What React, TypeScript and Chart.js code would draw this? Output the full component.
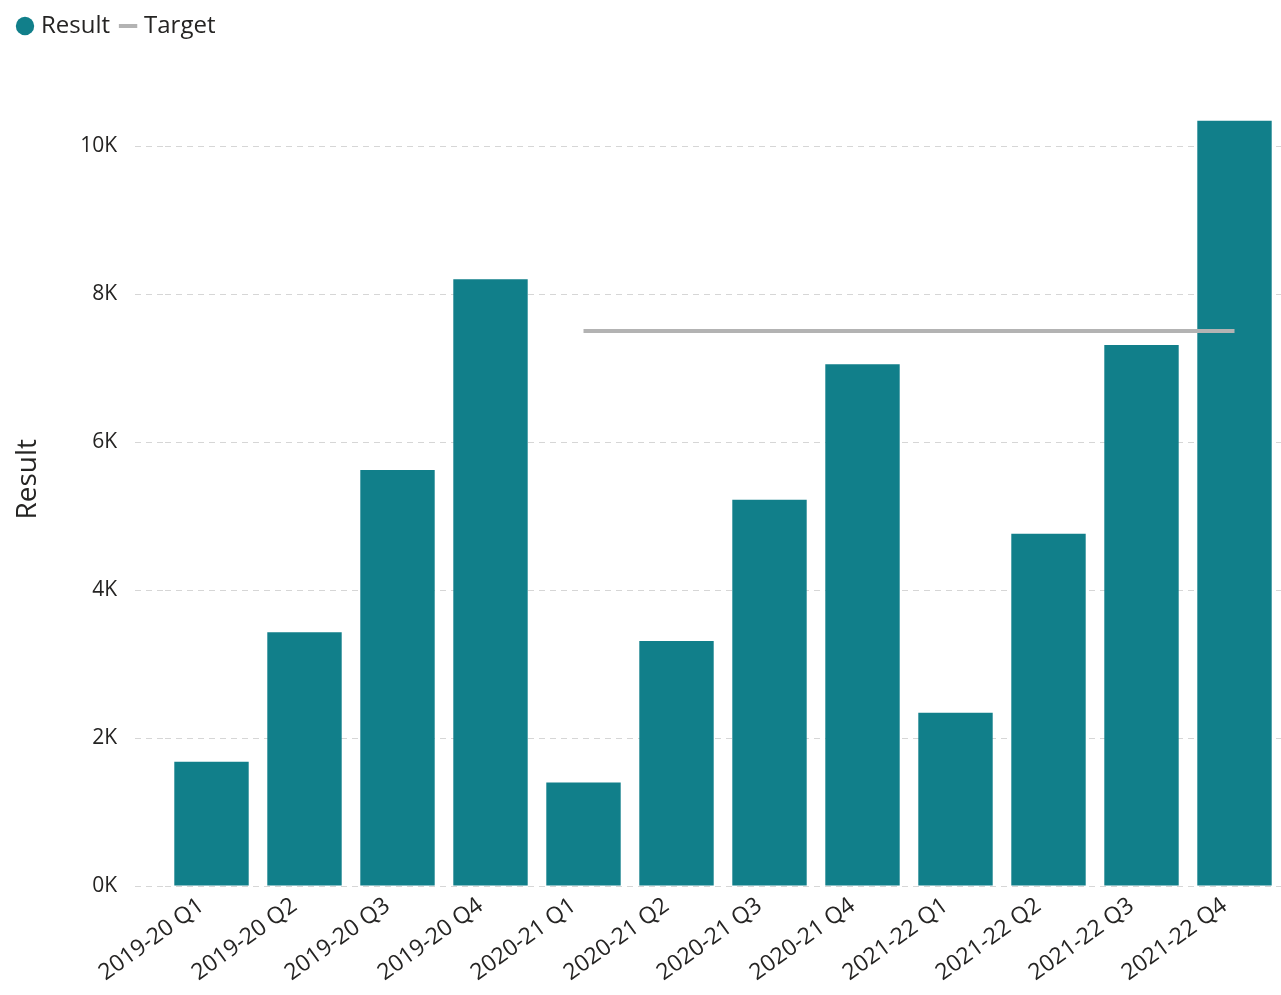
import React, { useEffect, useRef } from "react";
import { Chart, registerables } from "chart.js";

Chart.register(...registerables);

const categories = [
  "2019-20 Q1", "2019-20 Q2", "2019-20 Q3", "2019-20 Q4",
  "2020-21 Q1", "2020-21 Q2", "2020-21 Q3", "2020-21 Q4",
  "2021-22 Q1", "2021-22 Q2", "2021-22 Q3", "2021-22 Q4",
];
const resultValues = [1680, 3430, 5620, 8200, 1400, 3310, 5220, 7050, 2340, 4760, 7310, 10340];
const targetValues = [null, null, null, null, 7500, 7500, 7500, 7500, 7500, 7500, 7500, 7500];
const yTickValues = [0, 2000, 4000, 6000, 8000, 10000];

const FONT = '"Open Sans", "Noto Sans", sans-serif';
const TEXT = "#252423";
const BAR = "#117F8A";
const TARGET = "#B3B3B3";
const GRID = "#D6D6D6";

const legendHeight = {
  id: "legendHeight",
  beforeInit(chart: any) {
    const legend = chart.legend;
    if (!legend) return;
    const orig = legend.fit;
    legend.fit = function () {
      orig.call(this);
      this.height = 109;
    };
  },
};

export default function App() {
  const ref = useRef<HTMLCanvasElement | null>(null);
  useEffect(() => {
    if (!ref.current) return;
    const chart = new Chart(ref.current, {
      type: "bar",
      data: {
        labels: categories,
        datasets: [
          {
            type: "line",
            label: "Target",
            data: targetValues as any,
            borderColor: TARGET,
            backgroundColor: TARGET,
            borderWidth: 4,
            pointRadius: 0,
            pointStyle: "line",
            spanGaps: false,
          } as any,
          {
            type: "bar",
            label: "Result",
            data: resultValues,
            backgroundColor: BAR,
            borderWidth: 0,
            pointStyle: "circle",
            categoryPercentage: 1,
            barPercentage: 0.8,
          } as any,
        ],
      },
      options: {
        responsive: false,
        animation: false,
        layout: { padding: { left: 7, top: 0, right: 0, bottom: 0 } },
        plugins: {
          tooltip: { enabled: false },
          legend: {
            position: "top",
            align: "start",
            reverse: true,
            labels: {
              usePointStyle: true,
              boxWidth: 8,
              boxHeight: 13,
              padding: 14,
              color: TEXT,
              font: { family: FONT, size: 24 },
            },
          },
        },
        scales: {
          x: {
            grid: { display: false, drawTicks: false },
            border: { display: false },
            ticks: {
              color: TEXT,
              font: { family: FONT, size: 23 },
              minRotation: 36,
              maxRotation: 36,
              autoSkip: false,
              padding: 6,
              labelOffset: -10,
            },
            afterFit: (s: any) => {
              s.height = 109;
            },
          },
          y: {
            min: 0,
            max: 10500,
            afterBuildTicks: (s: any) => {
              s.ticks = yTickValues.map((v) => ({ value: v }));
            },
            grid: {
              color: GRID,
              lineWidth: 1,
              drawTicks: true,
              tickLength: 30,
              tickColor: GRID,
              tickBorderDash: [6, 5],
            },
            border: { display: false, dash: [6, 5] },
            ticks: {
              color: TEXT,
              font: { family: FONT, size: 21 },
              padding: 18,
              callback: (v: any) => `${Number(v) / 1000}K`,
            },
            title: {
              display: true,
              text: "     Result",
              color: TEXT,
              font: { family: FONT, size: 28 },
              padding: { top: 4, bottom: 0 },
            },
            afterFit: (s: any) => {
              s.width = 158;
            },
          },
        },
      },
      plugins: [legendHeight],
    });
    return () => chart.destroy();
  }, []);
  return (
    <div style={{ position: "absolute", left: 0, top: 0, width: 1281, height: 995, background: "#fff" }}>
      <canvas ref={ref} width={1281} height={995} style={{ display: "block" }} />
    </div>
  );
}
